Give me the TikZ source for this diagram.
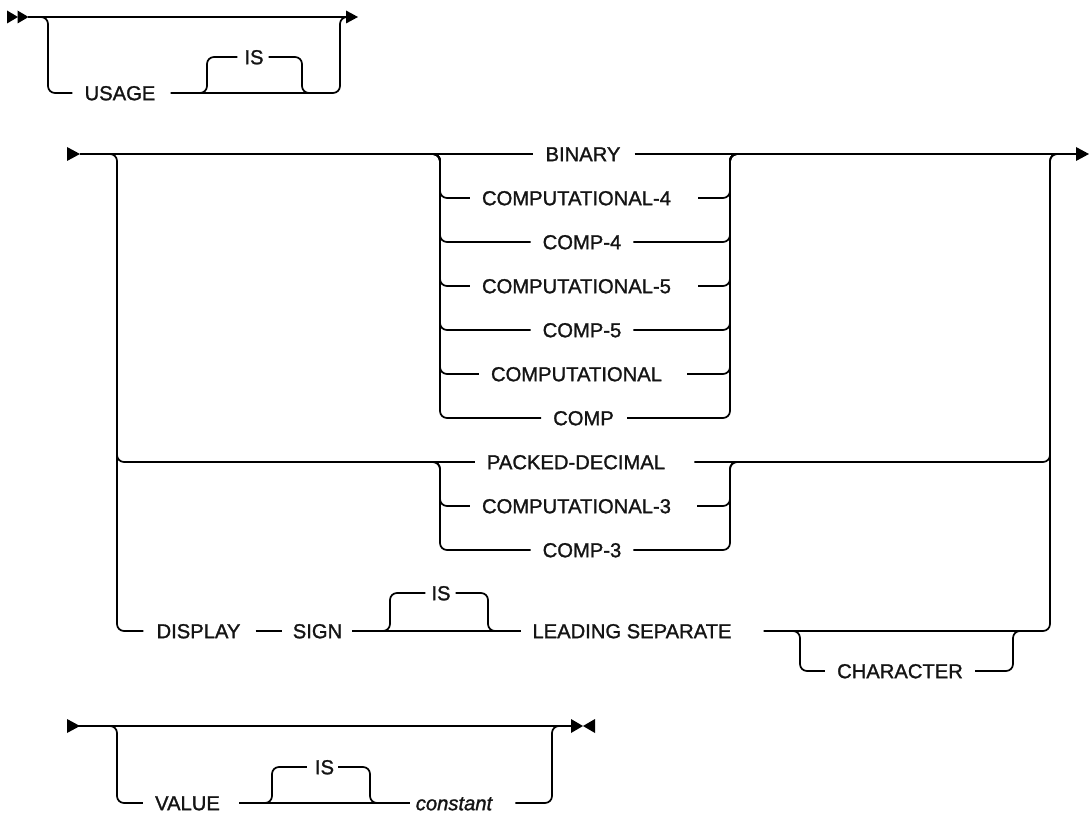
\documentclass[tikz,border=0pt]{standalone}
\usepackage{fontspec}
\setmainfont[FakeBold=1.3]{Liberation Sans}
\begin{document}
\begin{tikzpicture}[x=1pt,y=-1pt,
  kw/.style={font=\fontsize{20.2}{24}\selectfont, inner sep=0pt, text height=14.4pt, text depth=0pt, anchor=center, text=black!92},
  var/.style={kw, font=\fontsize{20.2}{24}\selectfont\itshape},
  rr/.style={line width=1.7pt, rounded corners=7pt, line cap=butt},
  tipmark/.style={fill=black}]
\useasboundingbox (0,0) rectangle (1089,813);

% ---------------- Section 1 ----------------
\coordinate (s1start) at (28,17);
\coordinate (s1end) at (346,17);
\fill[tipmark] (7,10.5) -- (18,17) -- (7,23.5) -- cycle;
\fill[tipmark] (17.5,10.5) -- (28.5,17) -- (17.5,23.5) -- cycle;
\fill[tipmark] (346,10.5) -- (358,17) -- (346,23.5) -- cycle;
\draw[rr] (s1start) -- (s1end);
\node[kw] (usage) at (120,93) {USAGE};
\node[kw] (is1) at (254,57) {IS};
\draw[rr] (38,17) -- (48,17) -- (48,93) -- ([xshift=-12pt]usage.west);
\draw[rr] ([xshift=15pt]usage.east) -- (340,93) -- (340,17) -- (348,17);
\draw[rr] (197,93) -- (207,93) -- (207,57) -- ([xshift=-7pt]is1.west);
\draw[rr] ([xshift=5pt]is1.east) -- (302,57) -- (302,93) -- (312,93);

% ---------------- Section 2 ----------------
\coordinate (s2start) at (80,154);
\coordinate (s2end) at (1077,154);
\fill[tipmark] (67,147) -- (80,154) -- (67,161) -- cycle;
\fill[tipmark] (1076,147) -- (1089,154) -- (1076,161) -- cycle;

\node[kw] (bin) at (583,154) {BINARY};
\node[kw] (c4) at (576.5,198) {COMPUTATIONAL-4};
\node[kw] (cp4) at (582,242) {COMP-4};
\node[kw] (c5) at (576.5,286) {COMPUTATIONAL-5};
\node[kw] (cp5) at (582,330) {COMP-5};
\node[kw] (cc) at (576.5,374) {COMPUTATIONAL};
\node[kw] (cp) at (583.5,418) {COMP};
\node[kw] (pd) at (576,462) {PACKED-DECIMAL};
\node[kw] (c3) at (576.5,506) {COMPUTATIONAL-3};
\node[kw] (cp3) at (582,550) {COMP-3};
\node[kw] (disp) at (198.5,631) {DISPLAY};
\node[kw] (sign) at (317.5,631) {SIGN};
\node[kw] (is2) at (441,593) {IS};
\node[kw] (lead) at (632,631) {LEADING SEPARATE};
\node[kw] (char) at (900,671) {CHARACTER};

% main line through BINARY
\draw[rr] (s2start) -- ([xshift=-12pt]bin.west);
\draw[rr] ([xshift=14pt]bin.east) -- (s2end);

% left outer vertical
\draw[rr] (108,154) -- (117,154) -- (117,631) -- ([xshift=-13pt]disp.west);
\draw[rr] (117,400) -- (117,462) -- ([xshift=-12pt]pd.west);

% BINARY group
\foreach \n/\g in {c4/27,cp4/12,c5/27,cp5/12,cc/25,cp/13}{
  \draw[rr] (430,154) -- (440,154) -- (440,0 |- \n.west) -- ([xshift=-12pt]\n.west);
  \draw[rr] ([xshift=\g pt]\n.east) -- (730,0 |- \n.east) -- (730,154) -- (740,154);
}
% PACKED group
\foreach \n/\g in {c3/26,cp3/12}{
  \draw[rr] (430,462) -- (440,462) -- (440,0 |- \n.west) -- ([xshift=-12pt]\n.west);
  \draw[rr] ([xshift=\g pt]\n.east) -- (730,0 |- \n.east) -- (730,462) -- (740,462);
}
\draw[rr] ([xshift=29pt]pd.east) -- (1050,462) -- (1050,154) -- (1060,154);

% DISPLAY row
\draw[rr] ([xshift=15pt]disp.east) -- ([xshift=-11pt]sign.west);
\draw[rr] ([xshift=10pt]sign.east) -- ([xshift=-11pt]lead.west);
\draw[rr] (380,631) -- (390,631) -- (390,593) -- ([xshift=-6pt]is2.west);
\draw[rr] ([xshift=5pt]is2.east) -- (488,593) -- (488,631) -- (498,631);
\draw[rr] ([xshift=32pt]lead.east) -- (1050,631) -- (1050,154) -- (1060,154);
% CHARACTER loop
\draw[rr] (790,631) -- (800,631) -- (800,671) -- ([xshift=-12pt]char.west);
\draw[rr] ([xshift=12pt]char.east) -- (1013,671) -- (1013,631) -- (1023,631);

% ---------------- Section 3 ----------------
\coordinate (s3start) at (78,726);
\coordinate (s3end) at (573,726);
\fill[tipmark] (67,719) -- (80,726) -- (67,733) -- cycle;
\fill[tipmark] (571,719) -- (583,726) -- (571,733) -- cycle;
\fill[tipmark] (595,719) -- (583,726) -- (595,733) -- cycle;
\draw[rr] (s3start) -- (s3end);
\node[kw] (value) at (187.5,803) {VALUE};
\node[kw] (is3) at (324.5,767) {IS};
\node[var] (const) at (454,803) {constant};
\draw[rr] (108,726) -- (117,726) -- (117,803) -- ([xshift=-12pt]value.west);
\draw[rr] ([xshift=19pt]value.east) -- ([xshift=-6pt]const.west);
\draw[rr] (262,803) -- (272,803) -- (272,767) -- ([xshift=-8pt]is3.west);
\draw[rr] ([xshift=4pt]is3.east) -- (370,767) -- (370,803) -- (380,803);
\draw[rr] ([xshift=23pt]const.east) -- (552,803) -- (552,726) -- (562,726);
\end{tikzpicture}
\end{document}
